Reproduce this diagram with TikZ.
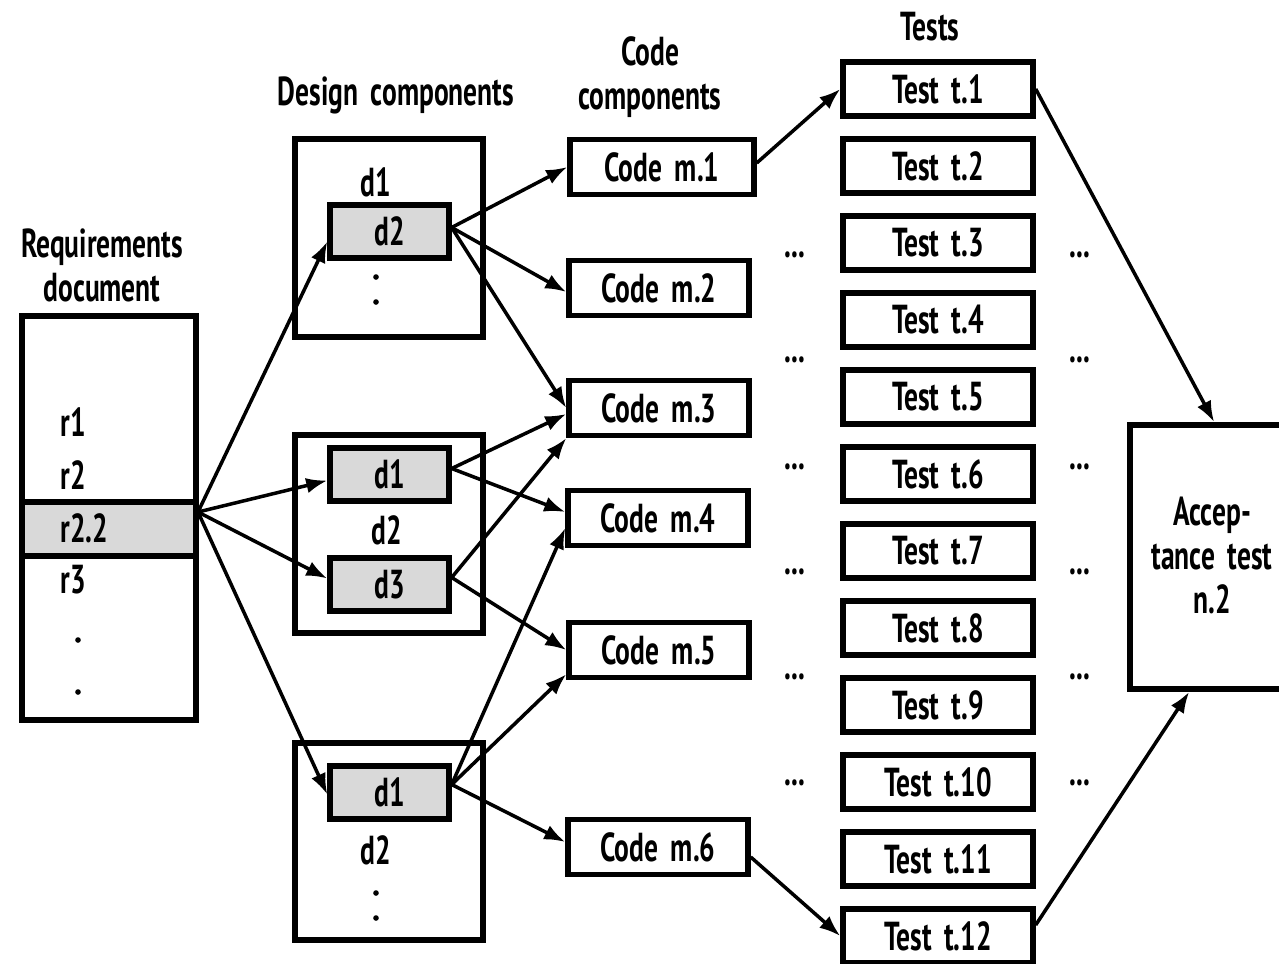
\documentclass[tikz,border=0pt]{standalone}
\usepackage{fontspec}
\setmainfont{PT Sans}[FakeStretch=0.68,WordSpace=1.8]
\usetikzlibrary{arrows.meta,calc}
\definecolor{shade}{RGB}{217,217,217}
\begin{document}
\begin{tikzpicture}[x=0.01cm,y=-0.01cm,
  every node/.style={font=\fontsize{11.5}{12.5}\selectfont\bfseries},
  frame/.style={draw,line width=1.6pt,inner sep=0pt},
  hl/.style={draw,line width=1.5pt,fill=shade,inner sep=0pt,minimum width=1.19cm,minimum height=0.53cm},
  codebox/.style={draw,line width=1.5pt,inner sep=0pt,minimum width=1.80cm,minimum height=0.55cm},
  testbox/.style={draw,line width=1.5pt,inner sep=0pt,minimum width=1.90cm,minimum height=0.54cm},
  arr/.style={line width=1pt,-{Latex[length=6pt,width=4.4pt]}},
  lbl/.style={inner sep=0pt,align=center}]
\clip (0,0) rectangle (1279,963);

% titles
\node[lbl] (treq) at (102,265) {Requirements\\document};
\node[lbl] (tdes) at (396,95) {Design components};
\node[lbl] (tcode) at (650,77) {Code\\components};
\node[lbl] (ttest) at (930,27) {Tests};

% requirements document
\node[frame,minimum width=1.74cm,minimum height=4.04cm] (req) at (109,518) {};
\node[frame,fill=shade,minimum width=1.74cm,minimum height=0.54cm] (r22) at (109,529) {};
\node[lbl,anchor=west] (r1) at (60,422) {r1};
\node[lbl,anchor=west] (r2) at (60,475) {r2};
\node[lbl,anchor=west] (r22t) at (60,528) {r2.2};
\node[lbl,anchor=west] (r3) at (60,580) {r3};
\fill (78,640) circle[radius=0.8pt];
\fill (78,692) circle[radius=0.8pt];
\coordinate (src) at (198,512);

% design component boxes
\node[frame,minimum width=1.88cm,minimum height=1.98cm] (des1) at (389,238) {};
\node[lbl] (d1a) at (376,182) {d1};
\node[hl] (d2a) at (389.5,231.5) {d2};
\fill (376,277) circle[radius=0.8pt];
\fill (376,302) circle[radius=0.8pt];

\node[frame,minimum width=1.88cm,minimum height=1.98cm] (des2) at (389,534) {};
\node[hl] (d1b) at (389.5,474.5) {d1};
\node[lbl] (d2b) at (387,530) {d2};
\node[hl] (d3b) at (389.5,584.5) {d3};

\node[frame,minimum width=1.88cm,minimum height=1.97cm] (des3) at (389,841.5) {};
\node[hl] (d1c) at (389.5,792.5) {d1};
\node[lbl] (d2c) at (376,850) {d2};
\fill (376,893) circle[radius=0.8pt];
\fill (376,918) circle[radius=0.8pt];

% code components
\node[codebox,minimum width=1.84cm] (m1) at (662,167) {Code m.1};
\node[codebox] (m2) at (659,288) {Code m.2};
\node[codebox] (m3) at (659,408) {Code m.3};
\node[codebox] (m4) at (658,518) {Code m.4};
\node[codebox] (m5) at (659,650) {Code m.5};
\node[codebox] (m6) at (658,847) {Code m.6};

% tests
\foreach \i in {1,...,12} {
  \node[testbox] (t\i) at (938,{89+77*(\i-1)}) {Test t.\i};
}
\foreach \y [count=\k] in {255,360,467,572,677,783} {
  \node[lbl] (ldots\k) at (795,\y) {...};
  \node[lbl] (rdots\k) at (1080,\y) {...};
}

% acceptance test
\node[frame,minimum width=1.66cm,minimum height=2.64cm] (acc) at (1213,557) {};
\node[lbl] (acct) at (1212,555) {Accep-\\tance test\\n.2};

% connectors
\draw[arr] (src) -- ($(d2a.west)+(0,10)$);
\draw[arr] (src) -- ($(d1b.west)+(0,6)$);
\draw[arr] (src) -- ($(d3b.west)+(0,-6)$);
\draw[arr] (src) -- ($(d1c.west)+(0,2)$);

\draw[arr] ($(d2a.east)+(0,-4)$) -- (m1.west);
\draw[arr] ($(d2a.east)+(0,-4)$) -- ($(m2.west)+(0,4)$);
\draw[arr] ($(d2a.east)+(0,-4)$) -- (m3.west);

\draw[arr] ($(d1b.east)+(0,-6)$) -- ($(m3.west)+(0,6)$);
\draw[arr] ($(d1b.east)+(0,-6)$) -- ($(m4.west)+(0,-6)$);

\draw[arr] ($(d3b.east)+(0,-7)$) -- (m3.south west);
\draw[arr] ($(d3b.east)+(0,-7)$) -- (m5.west);

\draw[arr] ($(d1c.east)+(0,-8)$) -- ($(m4.west)+(0,10)$);
\draw[arr] ($(d1c.east)+(0,-8)$) -- ($(m5.south west)+(0,-6)$);
\draw[arr] ($(d1c.east)+(0,-8)$) -- ($(m6.west)+(0,-5)$);

\draw[arr] ($(m1.east)+(0,-4)$) -- (t1.west);
\draw[arr] ($(m6.east)+(0,10)$) -- (t12.west);
\draw[arr] (t1.east) -- ($(acc.north west)+(87,0)$);
\draw[arr] ($(t12.east)+(0,-11)$) -- ($(acc.south west)+(62,0)$);
\end{tikzpicture}
\end{document}
